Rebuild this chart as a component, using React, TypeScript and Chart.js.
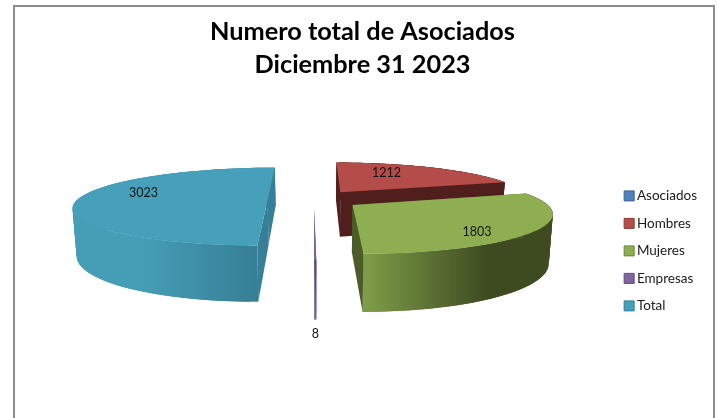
import React, { useEffect, useRef } from "react";
import { Chart, registerables } from "chart.js";

Chart.register(...registerables);

const categories = ["Asociados", "Hombres", "Mujeres", "Empresas", "Total"];
const values = [0, 1212, 1803, 8, 3023];
const titleLines = ["Numero total de Asociados", "Diciembre 31 2023"];

const topColors = ["#4F81BD", "#B44C49", "#8FAE52", "#7F64A2", "#46A0BA"];
const legendEdges = ["#3A6291", "#8C3836", "#6D853C", "#5E4A7D", "#338095"];
const radialColors = ["#3A6291", "#501E1C", "#4B5C29", "#5E4A7D", "#367F97"];
const wallStops = [
  ["#3A6291", "#3A6291"],
  ["#501E1C", "#501E1C"],
  ["#7F9E49", "#3E4B21"],
  ["#6A5290", "#6A5290"],
  ["#459DB6", "#347A90"],
];
const drawOrder = [1, 4, 3, 2];
// label placement per slice: angle shift (deg) from the slice's middle, radial fraction
const labelAngle = [0, -10, 12, 0, 15.6];
const labelRadius = [0, 0.665, 0.81, 1, 0.71];

// projective camera of the pie's plane
const CAM = { cx: 314, cy: 199.5, fx: 0.965, fy: 0.191, p: 0.000926, depth: 46, inset: 0.983 };

const project = (X: number, Y: number) => {
  const w = 1 - CAM.p * Y;
  return { x: CAM.cx + (CAM.fx * X) / w, y: CAM.cy + (CAM.fy * Y) / w, w };
};
const lower = (pt: { x: number; y: number; w: number }) => ({
  x: CAM.cx + (pt.x - CAM.cx) * CAM.inset,
  y: pt.y + CAM.depth / pt.w,
  w: pt.w,
});

const pie3d = {
  id: "pie3d",
  beforeDraw(chart: any) {
    const { ctx, width, height } = chart;
    ctx.save();
    ctx.fillStyle = "#FFFFFF";
    ctx.fillRect(0, 0, width, height);
    ctx.strokeStyle = "#8C8C8C";
    ctx.lineWidth = 2;
    ctx.beginPath();
    ctx.moveTo(14, height + 2);
    ctx.lineTo(14, 6);
    ctx.lineTo(714, 6);
    ctx.lineTo(714, height + 2);
    ctx.stroke();
    ctx.restore();
  },
  beforeDatasetsDraw(chart: any) {
    const { ctx } = chart;
    const arcs = chart.getDatasetMeta(0).data;
    const geo = (i: number) => {
      const a = arcs[i];
      const { startAngle, endAngle, outerRadius } = a.getProps(["startAngle", "endAngle", "outerRadius"], true);
      const mid = (startAngle + endAngle) / 2;
      const off = a.options.offset;
      const ax = Math.cos(mid) * off;
      const ay = Math.sin(mid) * off;
      const at = (angle: number, r: number) => project(ax + Math.cos(angle) * r, ay + Math.sin(angle) * r);
      return { startAngle, endAngle, outerRadius, mid, at };
    };
    const poly = (pts: { x: number; y: number }[], fill: any) => {
      ctx.beginPath();
      pts.forEach((q, k) => (k ? ctx.lineTo(q.x, q.y) : ctx.moveTo(q.x, q.y)));
      ctx.closePath();
      ctx.fillStyle = fill;
      ctx.fill();
    };
    ctx.save();
    for (const i of drawOrder) {
      const g = geo(i);
      const n = 80;
      const rim: { x: number; y: number; w: number }[] = [];
      for (let k = 0; k <= n; k++) {
        rim.push(g.at(g.startAngle + ((g.endAngle - g.startAngle) * k) / n, g.outerRadius));
      }
      const apex = g.at(0, 0);
      const xs = rim.map((q) => q.x);
      const minX = Math.min(...xs);
      const maxX = Math.max(...xs);
      const grad = ctx.createLinearGradient(minX, 0, Math.max(maxX, minX + 1), 0);
      grad.addColorStop(0, wallStops[i][0]);
      if (i === 2) grad.addColorStop(0.65, wallStops[i][1]);
      if (i === 4) grad.addColorStop(0.35, wallStops[i][0]);
      grad.addColorStop(1, wallStops[i][1]);
      // curved outer wall, in overlapping strips
      for (let k = 0; k < n; k++) {
        const a = rim[k];
        const b = rim[Math.min(k + 2, n)];
        poly([a, b, lower(b), lower(a)], grad);
      }
      // radial faces
      poly([apex, rim[0], lower(rim[0]), lower(apex)], radialColors[i]);
      poly([apex, rim[n], lower(rim[n]), lower(apex)], radialColors[i]);
      // top surface
      poly([apex, ...rim], topColors[i]);
    }
    // value labels
    ctx.fillStyle = "#141414";
    ctx.font = "12.5px Lato";
    ctx.textAlign = "center";
    ctx.textBaseline = "middle";
    values.forEach((v, i) => {
      if (!v) return;
      const g = geo(i);
      const pt = g.at(g.mid + (labelAngle[i] * Math.PI) / 180, g.outerRadius * labelRadius[i]);
      const small = g.endAngle - g.startAngle < 0.1;
      ctx.fillText(String(v), pt.x, small ? lower(pt).y + 14 : pt.y);
    });
    ctx.restore();
    return false;
  },
};

export default function App() {
  const ref = useRef<HTMLCanvasElement>(null);
  useEffect(() => {
    const chart = new Chart(ref.current as HTMLCanvasElement, {
      type: "pie",
      data: {
        labels: categories,
        datasets: [
          {
            data: values,
            backgroundColor: topColors,
            borderColor: legendEdges,
            borderWidth: 1,
            offset: 48,
            radius: 197,
            clip: false,
          } as any,
        ],
      },
      options: {
        animation: false,
        responsive: false,
        layout: { padding: { left: 18, right: 10, top: 6, bottom: 0 } },
        plugins: {
          title: {
            display: true,
            text: titleLines,
            color: "#000000",
            font: { family: "Lato", size: 25.3, weight: "bold", lineHeight: 1.28 },
            padding: { top: 10, bottom: 3 },
          },
          legend: {
            position: "right",
            fullSize: false,
            labels: {
              color: "#1A1A1A",
              font: { family: "Lato", size: 13.5 },
              usePointStyle: true,
              pointStyle: "rect",
              boxWidth: 2,
              boxHeight: 10,
              padding: 14,
            },
          },
          tooltip: { enabled: false },
        },
      },
      plugins: [pie3d],
    } as any);
    return () => chart.destroy();
  }, []);
  return (
    <canvas
      ref={ref}
      width={717}
      height={418}
      style={{ position: "absolute", left: 0, top: 0, display: "block", filter: "blur(0.4px)" }}
    />
  );
}
